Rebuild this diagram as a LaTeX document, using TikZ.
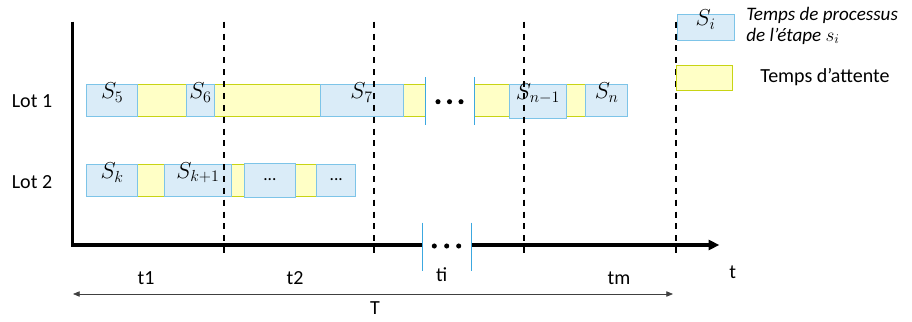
\documentclass[tikz,border=0pt]{standalone}
\usepackage{fontspec}
\setmainfont{Carlito}
\usetikzlibrary{fit,arrows.meta}
\definecolor{pfill}{RGB}{218,236,248}
\definecolor{pdraw}{RGB}{125,196,232}
\definecolor{wfill}{RGB}{255,255,198}
\definecolor{wdraw}{RGB}{200,212,20}
\definecolor{sepc}{RGB}{60,168,224}
\begin{document}
\begin{tikzpicture}[x=0.75pt,y=-0.75pt,
  font=\fontsize{15}{18}\selectfont,
  proc/.style={draw=pdraw, fill=pfill, line width=0.75pt, inner sep=0pt, font=\fontsize{16.5}{18}\selectfont},
  wait/.style={draw=wdraw, fill=wfill, line width=0.75pt, inner sep=0pt},
  sepline/.style={draw=sepc, line width=0.75pt},
  axis/.style={line width=2.4pt},
  guide/.style={line width=1.5pt, dash pattern=on 4.5pt off 4.4pt},
  span/.style={line width=0.6pt, draw=black!75, {Triangle[length=5pt,width=4pt]}-{Triangle[length=5pt,width=4pt]}},
  dot/.style={circle, fill=black, inner sep=0pt, minimum size=3.8pt},
  lbl/.style={inner sep=0pt},
  legit/.style={inner sep=0pt, anchor=base west, font=\fontsize{14.3}{17}\selectfont\itshape}]
\useasboundingbox (0,0) rectangle (912,321);

% ---- Lot 1 ----
\node[wait, fit={(86.7,84.7) (425,116.7)}] (w1) {};
\node[wait, fit={(474,84.7) (627.7,116.7)}] (w2) {};
\node[proc, fit={(86.7,84.7) (137.7,116.7)}] (s5) {$S_5$};
\node[proc, fit={(186.7,84.7) (214.3,116.7)}] (s6) {$S_6$};
\node[proc, fit={(320,84.7) (403.3,116.7)}] (s7) {$S_7$};
\node[proc, fit={(509.3,84.7) (566.7,118.3)}] (sn1) {$S_{n-1}$};
\node[proc, fit={(585.7,84.7) (627.7,116.7)}] (sn) {$S_n$};
\coordinate (r1a) at (425,77); \coordinate (r1b) at (425,125);
\coordinate (r1c) at (474,77); \coordinate (r1d) at (474,125);
\draw[sepline] (r1a) -- (r1b);
\draw[sepline] (r1c) -- (r1d);
\node[dot] (r1d1) at (438,101.7) {};
\node[dot] (r1d2) at (449.5,101.7) {};
\node[dot] (r1d3) at (461,101.7) {};

% ---- Lot 2 ----
\node[wait, fit={(86.7,164.3) (355.7,196.7)}] (w3) {};
\node[proc, fit={(86.7,164.3) (137.7,196.7)}] (sk) {$S_k$};
\node[proc, fit={(164.3,164.3) (231.7,196.7)}] (sk1) {$S_{k+1}$};
\node[proc, fit={(244,163) (295.7,197.5)}] (e1) {\fontsize{13}{14}\selectfont ...};
\node[proc, fit={(316.7,164.3) (355.7,196.7)}] (e2) {\fontsize{13}{14}\selectfont ...};

\node[lbl] (lot1) at (32,100.7) {Lot 1};
\node[lbl] (lot2) at (32,181.7) {Lot 2};

% ---- axes ----
\coordinate (ytop) at (72.7,21.7);
\coordinate (orig) at (72.7,245);
\coordinate (brk1) at (422.3,245);
\coordinate (brk2) at (471.3,245);
\coordinate (xtip) at (719.3,245);
\draw[axis] (ytop) -- (orig) -- (brk1);
\draw[axis, -{Triangle[length=8pt,width=7.5pt]}] (brk2) -- (xtip);
\coordinate (b1t) at (422.3,222.7); \coordinate (b1b) at (422.3,271);
\coordinate (b2t) at (471.3,222.7); \coordinate (b2b) at (471.3,271);
\draw[sepline] (b1t) -- (b1b);
\draw[sepline] (b2t) -- (b2b);
\node[dot] (ad1) at (434.3,246) {};
\node[dot] (ad2) at (446.7,246) {};
\node[dot] (ad3) at (458.7,246) {};

% ---- dashed guides ----
\foreach \i/\xx in {1/223.5,2/374,3/524,4/675.7}{
  \coordinate (g\i t) at (\xx,21.7);
  \coordinate (g\i b) at (\xx,257);
  \draw[guide] (g\i t) -- (g\i b);
}

% ---- labels ----
\node[lbl] (t1) at (146,278) {t1};
\node[lbl] (t2) at (295,278) {t2};
\node[lbl] (ti) at (441.7,275) {ti};
\node[lbl] (tm) at (619,278) {tm};
\node[lbl] (tt) at (732.7,272.7) {t};
\coordinate (spl) at (73,294);
\coordinate (spr) at (673,294);
\draw[span] (spl) -- (spr);
\node[lbl] (TT) at (375,308) {T};

% ---- legend ----
\node[proc, fit={(677.3,14.3) (734,41)}] (legp) {$S_i$};
\node[wait, fit={(676.7,65.7) (732.7,90.7)}] (legw) {};
\node[legit] (legt1) at (746,21) {Temps de processus};
\node[legit] (legt2) at (746,41) {de l’étape $s_i$};
\node[lbl, anchor=base west] (legt3) at (760,82) {Temps d’attente};
\end{tikzpicture}
\end{document}
